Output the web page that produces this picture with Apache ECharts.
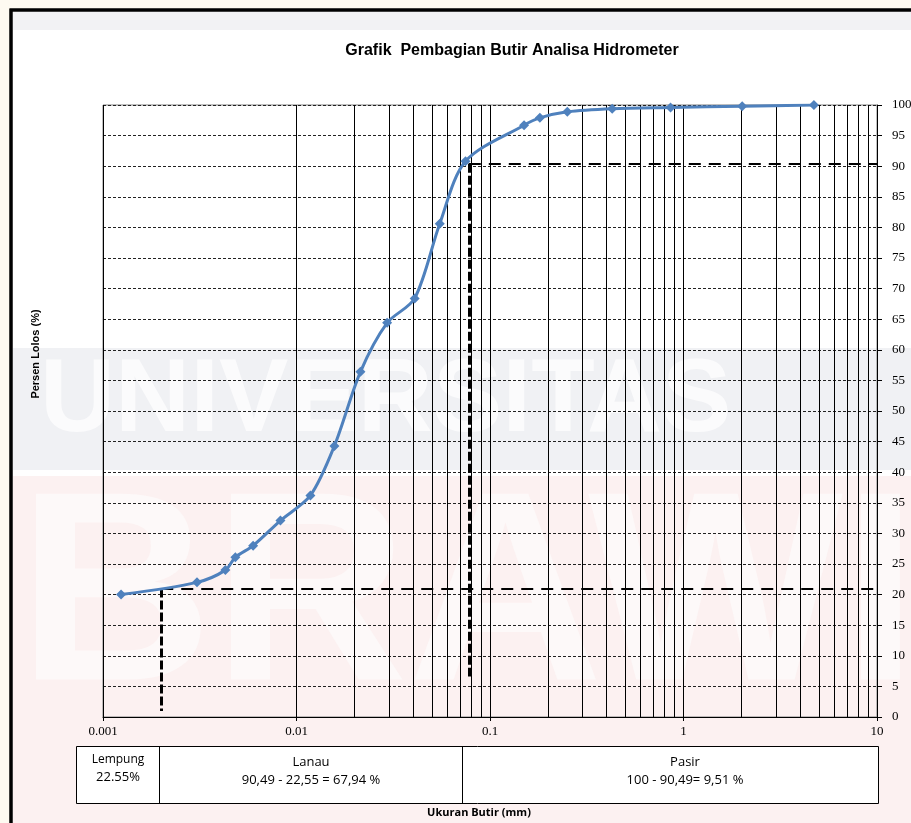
<!DOCTYPE html>
<html>
<head>
<meta charset="utf-8">
<script src="https://cdn.jsdelivr.net/npm/echarts@6/dist/echarts.min.js"></script>
<style>
html,body{margin:0;padding:0;background:#fefaf1;}
#c{width:911px;height:823px;}
</style>
</head>
<body>
<div id="c"></div>
<script>
// ---- data ----
const grainSize = [0.00124, 0.00306, 0.00429, 0.00483, 0.00597, 0.00826, 0.0118, 0.0157, 0.0214, 0.0294, 0.0408, 0.055, 0.0747, 0.15, 0.181, 0.251, 0.428, 0.857, 2.01, 4.72];
const percentPassing = [20.0, 22.0, 24.0, 26.1, 28.0, 32.1, 36.2, 44.3, 56.4, 64.4, 68.4, 80.6, 90.8, 96.7, 97.9, 98.9, 99.4, 99.6, 99.8, 100.0];
const xTickLabels = [0.001, 0.01, 0.1, 1, 10];
const minorGridX = [0.002,0.003,0.004,0.005,0.006,0.007,0.008,0.009,
                    0.02,0.03,0.04,0.05,0.06,0.07,0.08,0.09,
                    0.2,0.3,0.4,0.5,0.6,0.7,0.8,0.9,
                    2,3,4,5,6,7,8,9];
const guideSiltSize = 0.0777, guideSiltPct = 90.4;
const guideClaySize = 0.002, guideClayPct = 21.0;
const guideSiltBottom = 6.6, guideClayBottom = 1.0;
const xMin = 0.001, xMax = 10;
const yMin = 0, yMax = 100, yStep = 5;
const tableCells = [
  {name: 'Lempung', value: '22.55%'},
  {name: 'Lanau', value: '90,49 - 22,55 = 67,94 %'},
  {name: 'Pasir', value: '100 - 90,49= 9,51 %'}
];

const chart = echarts.init(document.getElementById('c'), null, {renderer: 'canvas'});

const serif = '"Liberation Serif","DejaVu Serif",serif';
const sans = '"Liberation Sans",Arial,sans-serif';

function fmt(v){ return String(Number(Number(v).toPrecision(3))); }

const option = {
  backgroundColor: '#fefaf1',
  animation: false,
  graphic: [
    // frame and watermark background
    {type: 'rect', z: -10, shape: {x: 11, y: 10, width: 920, height: 830}, style: {fill: '#ffffff', stroke: '#000', lineWidth: 3}},
    {type: 'rect', z: -9, shape: {x: 13, y: 12, width: 900, height: 18}, style: {fill: '#f2f2f4'}},
    {type: 'rect', z: -9, shape: {x: 13, y: 348, width: 900, height: 122}, style: {fill: '#f0f1f4'}},
    {type: 'rect', z: -9, shape: {x: 13, y: 476, width: 900, height: 347}, style: {fill: '#fcf1f1'}},
    {type: 'text', z: -8, x: 40, y: 350, style: {text: 'UNIVERSITAS', font: 'bold 104px "Liberation Sans"', fill: '#fbfbfc'}},
    {type: 'text', z: -8, x: 18, y: 470, style: {text: 'BRAWIJAYA', font: 'bold 270px "Liberation Sans"', fill: '#fdf9f9'}},
    {type: 'rect', z: -7, shape: {x: 11, y: 10, width: 920, height: 830}, style: {fill: 'none', stroke: '#000', lineWidth: 3}},
    // y axis name
    {type: 'text', x: 36, y: 354, rotation: Math.PI/2, style: {text: 'Persen Lolos (%)', font: 'bold 11px "Liberation Sans"', fill: '#000', align: 'center', verticalAlign: 'middle'}},
    // bottom table
    {type: 'rect', shape: {x: 76.5, y: 746.5, width: 802, height: 57}, style: {fill: '#fff', stroke: '#000', lineWidth: 1}},
    {type: 'line', shape: {x1: 159.5, y1: 746.5, x2: 159.5, y2: 803.5}, style: {stroke: '#000', lineWidth: 1}},
    {type: 'line', shape: {x1: 462.5, y1: 746.5, x2: 462.5, y2: 803.5}, style: {stroke: '#000', lineWidth: 1}},
    {type: 'text', x: 118, y: 760, style: {text: tableCells[0].name, font: '12px "Open Sans"', fill: '#000', align: 'center', verticalAlign: 'middle'}},
    {type: 'text', x: 118, y: 777, style: {text: tableCells[0].value, font: '13px "Open Sans"', fill: '#000', align: 'center', verticalAlign: 'middle'}},
    {type: 'text', x: 311, y: 762, style: {text: tableCells[1].name, font: '13px "Open Sans"', fill: '#000', align: 'center', verticalAlign: 'middle'}},
    {type: 'text', x: 311, y: 780, style: {text: tableCells[1].value, font: '13px "Open Sans"', fill: '#000', align: 'center', verticalAlign: 'middle'}},
    {type: 'text', x: 685, y: 762, style: {text: tableCells[2].name, font: '13px "Open Sans"', fill: '#000', align: 'center', verticalAlign: 'middle'}},
    {type: 'text', x: 685, y: 780, style: {text: tableCells[2].value, font: '13px "Open Sans"', fill: '#000', align: 'center', verticalAlign: 'middle'}},
    {type: 'text', x: 479, y: 813, style: {text: 'Ukuran Butir (mm)', font: 'bold 11px "Open Sans"', fill: '#000', align: 'center', verticalAlign: 'middle'}}
  ],
  title: {
    text: 'Grafik  Pembagian Butir Analisa Hidrometer',
    left: 507, top: 38, textAlign: 'center',
    textStyle: {fontFamily: sans, fontWeight: 'bold', fontSize: 16, color: '#000'}
  },
  grid: {left: 103, right: 34, top: 105, bottom: 106, outerBoundsMode: 'none', containLabel: false, show: true, borderColor: '#808080', borderWidth: 1, backgroundColor: 'transparent'},
  xAxis: {
    type: 'log', logBase: 10, min: xMin, max: xMax,
    axisLine: {show: true, lineStyle: {color: '#000', width: 1}},
    axisTick: {show: true, length: 4, lineStyle: {color: '#000'}},
    axisLabel: {fontFamily: serif, fontSize: 13, color: '#000', margin: 8, formatter: fmt},
    splitLine: {show: true, lineStyle: {color: '#000', width: 1, type: 'solid'}}
  },
  yAxis: {
    type: 'value', position: 'right', min: yMin, max: yMax, interval: yStep,
    axisLine: {show: true, lineStyle: {color: '#000', width: 1}},
    axisTick: {show: true, length: 5, lineStyle: {color: '#000'}},
    axisLabel: {fontFamily: serif, fontSize: 13, color: '#000', margin: 15},
    splitLine: {show: true, lineStyle: {color: '#222', width: 1, type: [3, 2]}}
  },
  series: [
    {
      type: 'line', z: 1, silent: true,
      data: grainSize.map((x, i) => [x, percentPassing[i]]),
      showSymbol: false, lineStyle: {opacity: 0}, tooltip: {show: false},
      markLine: {
        silent: true, symbol: 'none', label: {show: false},
        lineStyle: {color: '#000', width: 1, type: 'solid'},
        data: minorGridX.map(v => ({xAxis: v}))
      }
    },
    {
      type: 'line', z: 3, silent: true,
      data: grainSize.map((x, i) => [x, percentPassing[i]]),
      showSymbol: false, lineStyle: {opacity: 0},
      markLine: {
        silent: true, symbol: 'none', label: {show: false},
        data: [
          [{coord: [guideSiltSize, guideSiltPct], lineStyle: {color: '#000', width: 2, type: [12, 8]}}, {coord: [xMax, guideSiltPct]}],
          [{coord: [guideSiltSize, guideSiltPct], lineStyle: {color: '#000', width: 3, type: [9, 3]}}, {coord: [guideSiltSize, guideSiltBottom]}],
          [{coord: [guideClaySize, guideClayPct], lineStyle: {color: '#000', width: 2, type: [12, 8]}}, {coord: [xMax, guideClayPct]}],
          [{coord: [guideClaySize, guideClayPct], lineStyle: {color: '#000', width: 3, type: [9, 3]}}, {coord: [guideClaySize, guideClayBottom]}]
        ]
      }
    },
    {
      type: 'line', z: 5,
      data: grainSize.map((x, i) => [x, percentPassing[i]]),
      smooth: 0.3,
      symbol: 'diamond', symbolSize: 10, showSymbol: true,
      itemStyle: {color: '#4f81bd'},
      lineStyle: {color: '#4f81bd', width: 3}
    }
  ]
};
chart.setOption(option);
</script>
</body>
</html>
